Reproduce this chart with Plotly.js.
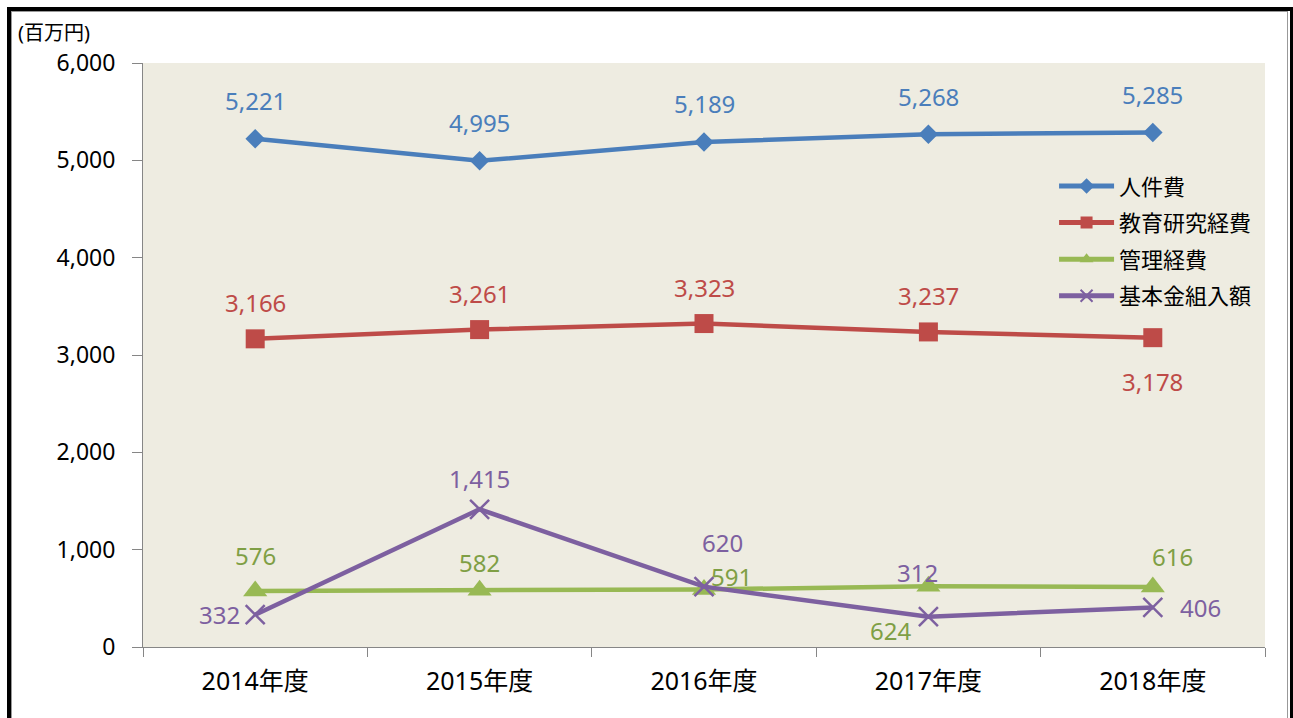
<!DOCTYPE html>
<html>
<head>
<meta charset="utf-8">
<script src="https://cdn.plot.ly/plotly-3.0.1.min.js"></script>
<style>
html,body{margin:0;padding:0;background:#fff;overflow:hidden;}
#chart{width:1293px;height:718px;}
#frame{position:absolute;left:7px;top:7px;width:1279px;height:720px;border:4px solid #000;box-sizing:content-box;pointer-events:none;}
#frame2{position:absolute;left:11px;top:11px;width:1275px;height:720px;border-left:1px solid #999;border-top:1px solid #999;border-right:1px solid #999;pointer-events:none;}
</style>
</head>
<body>
<div id="chart"></div>
<div id="frame"></div>
<div id="frame2"></div>
<script>
const categories = ["2014年度","2015年度","2016年度","2017年度","2018年度"];
const seriesNames = ["人件費","教育研究経費","管理経費","基本金組入額"];
const personnel = [5221, 4995, 5189, 5268, 5285];
const research = [3166, 3261, 3323, 3237, 3178];
const admin = [576, 582, 591, 624, 616];
const endowment = [332, 1415, 620, 312, 406];
const yTickVals = [0, 1000, 2000, 3000, 4000, 5000, 6000];
const yTickText = ["0","1,000","2,000","3,000","4,000","5,000","6,000"];

const FONT = "Noto Sans, Noto Sans CJK JP, sans-serif";
const colors = ["#4A7EBB", "#BE4B48", "#98B954", "#7D60A0"];
const labelColors = ["#4A7EBB", "#BE4B48", "#7F9F45", "#7D60A0"];
const markers = [
  {symbol: "diamond", size: 15},
  {symbol: "square", size: 19},
  {symbol: "triangle-up", size: 21},
  {symbol: "x-thin-open", size: 19}
];
const allSeries = [personnel, research, admin, endowment];

// label offsets (px) relative to each point [dx, dy] (dy positive = up)
const labelOffsets = [
  [[0,38],[0,38],[0,38],[0,38],[0,38]],
  [[0,36],[0,36],[0,36],[0,36],[0,-44]],
  [[0,35],[0,28],[27,13],[-38,-44],[20,31]],
  [[-36,0],[0,31],[18,44],[-11,44],[48,0]]
];

const fmt = v => v.toLocaleString("en-US");

const traces = allSeries.map((vals, i) => ({
  type: "scatter",
  mode: "lines+markers",
  name: seriesNames[i],
  legendgroup: "g" + i,
  x: categories,
  y: vals,
  line: {color: colors[i], width: 4.5},
  marker: {
    symbol: markers[i].symbol,
    size: markers[i].size,
    color: colors[i],
    line: {color: colors[i], width: i === 3 ? 2.5 : 0}
  },
  hoverinfo: "skip"
}));

const annotations = [];
allSeries.forEach((vals, i) => {
  vals.forEach((v, j) => {
    annotations.push({
      x: categories[j], y: v, xref: "x", yref: "y",
      text: fmt(v), showarrow: false,
      xshift: labelOffsets[i][j][0], yshift: labelOffsets[i][j][1],
      font: {family: FONT, size: 24, color: labelColors[i]}
    });
  });
});
annotations.push({
  text: "(百万円)", xref: "paper", yref: "paper",
  x: -0.113, y: 1.0, xanchor: "left", yanchor: "bottom", yshift: 15,
  showarrow: false, font: {family: FONT, size: 20, color: "#000"}
});

const layout = {
  width: 1293, height: 718,
  margin: {l: 143, r: 28, t: 63, b: 71},
  paper_bgcolor: "#fff",
  plot_bgcolor: "#EEECE1",
  showlegend: true,
  legend: {
    x: 0.812, y: 0.825, xanchor: "left", yanchor: "top",
    bgcolor: "rgba(0,0,0,0)",
    font: {family: FONT, size: 22, color: "#000"},
    itemwidth: 55, tracegroupgap: 5, itemsizing: "constant"
  },
  xaxis: {
    type: "category",
    range: [-0.5, 4.5],
    showgrid: false, zeroline: false,
    showline: true, linecolor: "#868686", linewidth: 1,
    ticks: "outside", tickson: "boundaries", ticklen: 9, tickcolor: "#868686",
    tickfont: {family: FONT, size: 25, color: "#000"},
    ticklabelstandoff: 12
  },
  yaxis: {
    range: [0, 6000],
    tickvals: yTickVals, ticktext: yTickText,
    showgrid: false, zeroline: false,
    showline: true, linecolor: "#868686", linewidth: 1,
    ticks: "outside", ticklen: 10, tickcolor: "#868686",
    tickfont: {family: FONT, size: 23, color: "#000"},
    ticklabelstandoff: 12
  },
  annotations: annotations
};

Plotly.newPlot("chart", traces, layout, {displayModeBar: false, staticPlot: true});
</script>
</body>
</html>
